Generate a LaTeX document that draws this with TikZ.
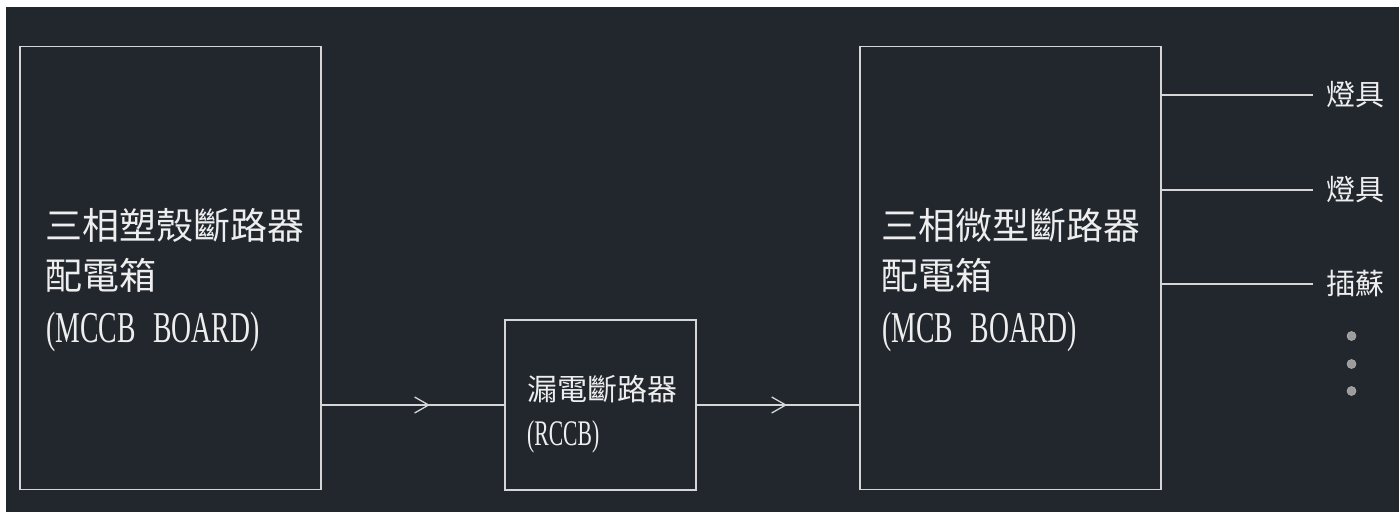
\documentclass[tikz,border=0pt]{standalone}
\usepackage{fontspec}
\setmainfont{Liberation Serif}
\newfontfamily\latA{Liberation Serif}[FakeStretch=0.63]
\newfontfamily\latB{Liberation Serif}[FakeStretch=0.6]
\newfontfamily\cjk{Noto Sans CJK TC}
\newcommand{\wsp}{\hspace*{17.5pt}}
\definecolor{bg}{HTML}{22272E}
\definecolor{ln}{HTML}{D6D6D6}
\definecolor{tx}{HTML}{EEEEEE}
\definecolor{dotc}{HTML}{9C9C9C}
\begin{document}
\begin{tikzpicture}[x=1pt,y=-1pt,
  boxnode/.style={draw=ln,line width=1.5pt,rectangle,inner sep=0pt},
  conn/.style={draw=ln,line width=1.3pt},
  bigtxt/.style={anchor=base west,inner sep=0pt,text=tx,font=\cjk\fontsize{37}{37}\selectfont},
  biglat/.style={anchor=base west,inner sep=0pt,text=tx,font=\latA\fontsize{44}{44}\selectfont},
  midtxt/.style={anchor=base west,inner sep=0pt,text=tx,font=\cjk\fontsize{30}{30}\selectfont},
  midlat/.style={anchor=base west,inner sep=0pt,text=tx,font=\latB\fontsize{36}{36}\selectfont},
  loadtxt/.style={anchor=west,inner sep=0pt,text=tx,font=\cjk\fontsize{29}{29}\selectfont},
  dotmark/.style={circle,fill=dotc,draw=dotc!80!white,line width=0.6pt,minimum size=9pt,inner sep=0pt}
]
\useasboundingbox (0,0) rectangle (1399,512);
\fill[white] (0,0) rectangle (1399,512);
\fill[bg] (6,7) rectangle (1399,512);

% boxes
\node[boxnode,minimum width=301pt,minimum height=443pt] (mccb) at (170.5,268) {};
\node[boxnode,minimum width=191pt,minimum height=170pt] (rccb) at (600.5,405) {};
\node[boxnode,minimum width=301pt,minimum height=443pt] (mcb) at (1010.5,268) {};

% texts in boxes
\node[bigtxt] (t1a) at (45,239) {三相塑殼斷路器};
\node[bigtxt] (t1b) at (45,289) {配電箱};
\node[biglat] (t1c) at (46,342) {(MCCB\wsp BOARD)};

\node[midtxt] (t2a) at (527,400) {漏電斷路器};
\node[midlat] (t2b) at (527,445) {(RCCB)};

\node[bigtxt] (t3a) at (881,239) {三相微型斷路器};
\node[bigtxt] (t3b) at (881,289) {配電箱};
\node[biglat] (t3c) at (882,342) {(MCB\wsp BOARD)};

% connectors with mid chevrons
\draw[conn] (mccb.east |- rccb.west) -- (rccb.west);
\draw[conn] (rccb.east) -- (mcb.west |- rccb.east);
\coordinate (c1) at (428.6,405);
\coordinate (c2) at (785.7,405);
\draw[conn] ([xshift=-14pt,yshift=-8pt]c1) -- (c1) -- ([xshift=-14pt,yshift=8pt]c1);
\draw[conn] ([xshift=-14pt,yshift=-8pt]c2) -- (c2) -- ([xshift=-14pt,yshift=8pt]c2);

% loads
\node[loadtxt] (l1) at (1326,95) {燈具};
\node[loadtxt] (l2) at (1326,190) {燈具};
\node[loadtxt] (l3) at (1326,284) {插蘇};
\coordinate (e1) at (1313,95);
\coordinate (e2) at (1313,190);
\coordinate (e3) at (1313,284);
\draw[conn] (mcb.east |- e1) -- (e1);
\draw[conn] (mcb.east |- e2) -- (e2);
\draw[conn] (mcb.east |- e3) -- (e3);

% continuation dots
\node[dotmark] (d1) at (1351.5,336) {};
\node[dotmark] (d2) at (1351.5,364) {};
\node[dotmark] (d3) at (1351.5,391) {};
\end{tikzpicture}
\end{document}
